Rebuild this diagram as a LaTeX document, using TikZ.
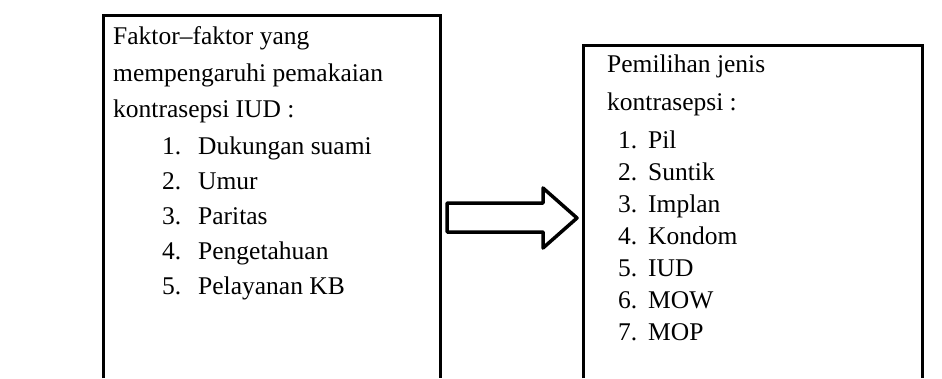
\documentclass[tikz,border=0pt]{standalone}
\usepackage{fontspec}
\setmainfont{Liberation Serif}
\begin{document}
\begin{tikzpicture}[x=1pt,y=-1pt,
  boxline/.style={line width=3pt,line join=miter},
  txt/.style={anchor=base west,inner sep=0pt,font=\fontsize{25.5}{30}\selectfont},
  bigarrow/.style={line width=3.5pt,line join=round}]
\useasboundingbox (0,0) rectangle (942,378);
% left box (open at bottom)
\draw[boxline] (103,378) -- (103,15) -- (440,15) -- (440,378);
% right box (open at bottom)
\draw[boxline] (583,378) -- (583,45) -- (922,45) -- (922,378);
% block arrow
\draw[bigarrow] (447,203) -- (543,203) -- (543,188) -- (577,218) -- (543,248) -- (543,232) -- (447,232) -- cycle;
% left texts
\node[txt] (l1) at (113,44) {Faktor–faktor yang};
\node[txt] (l2) at (113,81) {mempengaruhi pemakaian};
\node[txt] (l3) at (113,117) {kontrasepsi IUD :};
\node[txt] (n1) at (162,154) {1.};
\node[txt] (i1) at (198,154) {Dukungan suami};
\node[txt] (n2) at (162,189) {2.};
\node[txt] (i2) at (198,189) {Umur};
\node[txt] (n3) at (162,224) {3.};
\node[txt] (i3) at (198,224) {Paritas};
\node[txt] (n4) at (162,259) {4.};
\node[txt] (i4) at (198,259) {Pengetahuan};
\node[txt] (n5) at (162,294) {5.};
\node[txt] (i5) at (198,294) {Pelayanan KB};
% right texts
\node[txt] (r1) at (607,72) {Pemilihan jenis};
\node[txt] (r2) at (607,110) {kontrasepsi :};
\node[txt] (m1) at (618,148) {1.};
\node[txt] (j1) at (648,148) {Pil};
\node[txt] (m2) at (618,180) {2.};
\node[txt] (j2) at (648,180) {Suntik};
\node[txt] (m3) at (618,212) {3.};
\node[txt] (j3) at (648,212) {Implan};
\node[txt] (m4) at (618,244) {4.};
\node[txt] (j4) at (648,244) {Kondom};
\node[txt] (m5) at (618,276) {5.};
\node[txt] (j5) at (648,276) {IUD};
\node[txt] (m6) at (618,308) {6.};
\node[txt] (j6) at (648,308) {MOW};
\node[txt] (m7) at (618,340) {7.};
\node[txt] (j7) at (648,340) {MOP};
\end{tikzpicture}
\end{document}
